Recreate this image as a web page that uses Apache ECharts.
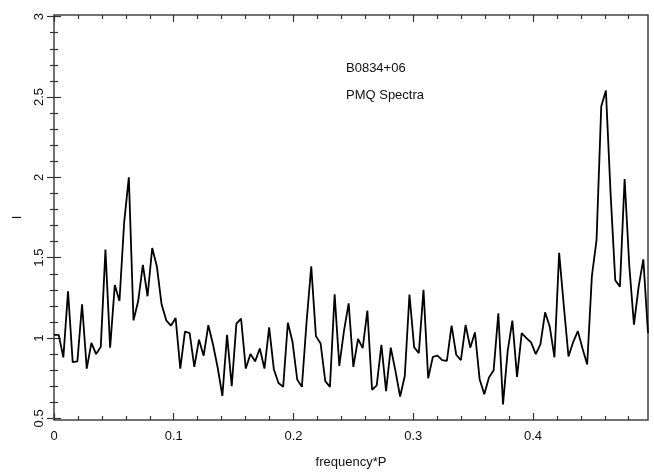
<!DOCTYPE html>
<html>
<head>
<meta charset="utf-8">
<script src="https://cdn.jsdelivr.net/npm/echarts@6/dist/echarts.min.js"></script>
<style>
html,body{margin:0;padding:0;background:#fff;}
#chart{width:654px;height:475px;}
</style>
</head>
<body>
<div id="chart"></div>
<script>
// Sampling step of the frequency grid (frequency*P), 128 samples
const freqStep = 1 / 256;
// Intensity values
const intensity = [
  1.02, 1.02, 0.88, 1.29, 0.85, 0.855, 1.21, 0.81, 0.97, 0.90,
  0.945, 1.55, 0.94, 1.33, 1.23, 1.72, 2.00, 1.11, 1.23, 1.455,
  1.26, 1.56, 1.445, 1.21, 1.11, 1.077, 1.125, 0.81, 1.04, 1.03,
  0.82, 0.99, 0.89, 1.08, 0.96, 0.815, 0.64, 1.02, 0.70, 1.09,
  1.12, 0.81, 0.90, 0.855, 0.935, 0.81, 1.066, 0.806, 0.72, 0.696,
  1.095, 0.975, 0.742, 0.696, 1.10, 1.446, 1.012, 0.966, 0.732, 0.696,
  1.272, 0.827, 1.045, 1.216, 0.82, 0.994, 0.937, 1.17, 0.678, 0.705,
  0.958, 0.67, 0.94, 0.796, 0.636, 0.764, 1.27, 0.943, 0.906, 1.30,
  0.75, 0.883, 0.89, 0.8625, 0.858, 1.077, 0.896, 0.8625, 1.081, 0.94,
  1.035, 0.744, 0.65, 0.754, 0.80, 1.154, 0.5875, 0.92, 1.108, 0.758,
  1.03, 1.00, 0.973, 0.90, 0.96, 1.16, 1.07, 0.88, 1.53, 1.20,
  0.885, 0.975, 1.043, 0.935, 0.835, 1.385, 1.61, 2.44, 2.54, 1.90,
  1.36, 1.32, 1.99, 1.45, 1.083, 1.32, 1.49, 1.03
];
const xMajorTicks = [0, 0.1, 0.2, 0.3, 0.4];
const xMinorTicks = [0.02, 0.04, 0.06, 0.08, 0.12, 0.14, 0.16, 0.18, 0.22, 0.24, 0.26, 0.28,
                     0.32, 0.34, 0.36, 0.38, 0.42, 0.44, 0.46, 0.48];
const yMajorTicks = [0.5, 1, 1.5, 2, 2.5, 3];
const yMinorTicks = [0.6, 0.7, 0.8, 0.9, 1.1, 1.2, 1.3, 1.4, 1.6, 1.7, 1.8, 1.9,
                     2.1, 2.2, 2.3, 2.4, 2.6, 2.7, 2.8, 2.9];
const xLabel = 'frequency*P';
const yLabel = 'I';
const annotations = ['B0834+06', 'PMQ Spectra'];

const seriesData = intensity.map((v, k) => [k * freqStep, v]);
const xMax = (intensity.length - 1) * freqStep;
const yMin = 0.49, yMax = 3.01;

const FONT = '"Liberation Sans", Arial, sans-serif';
const tickColor = '#333';

function xAxisDef(pos, ticks, len, withLabel) {
  return {
    type: 'value', position: pos, min: 0, max: xMax,
    axisLine: { show: false },
    splitLine: { show: false },
    axisTick: { show: true, inside: true, length: len, customValues: ticks,
                lineStyle: { color: tickColor, width: 1.2 } },
    axisLabel: withLabel ? { show: true, customValues: ticks, margin: 10,
                fontFamily: FONT, fontSize: 13, color: '#111',
                formatter: v => String(+v.toFixed(2)) } : { show: false },
    name: withLabel ? xLabel : '', nameLocation: 'middle', nameGap: 36,
    nameTextStyle: { fontFamily: FONT, fontSize: 13, color: '#111' }
  };
}
function yAxisDef(pos, ticks, len, withLabel) {
  return {
    type: 'value', position: pos, min: yMin, max: yMax,
    axisLine: { show: false },
    splitLine: { show: false },
    axisTick: { show: true, inside: true, length: len, customValues: ticks,
                lineStyle: { color: tickColor, width: 1.2 } },
    axisLabel: withLabel ? { show: true, customValues: ticks, margin: 8, rotate: 90,
                fontFamily: FONT, fontSize: 13, color: '#111',
                formatter: v => String(+v.toFixed(2)) } : { show: false },
    name: withLabel ? yLabel : '', nameLocation: 'middle', nameGap: 30, nameRotate: 90,
    nameTextStyle: { fontFamily: FONT, fontSize: 13, color: '#111' }
  };
}

const chart = echarts.init(document.getElementById('chart'), null, { renderer: 'canvas' });
chart.setOption({
  animation: false,
  backgroundColor: '#fff',
  grid: { left: 54, right: 6, top: 15, height: 405, show: true,
          borderColor: '#444', borderWidth: 1.5, backgroundColor: 'transparent' },
  xAxis: [
    xAxisDef('bottom', xMajorTicks, 7, true),
    xAxisDef('bottom', xMinorTicks, 4, false),
    xAxisDef('top', xMajorTicks, 7, false),
    xAxisDef('top', xMinorTicks, 4, false)
  ],
  yAxis: [
    yAxisDef('left', yMajorTicks, 7, true),
    yAxisDef('left', yMinorTicks, 4, false),
    yAxisDef('right', yMajorTicks, 7, false),
    yAxisDef('right', yMinorTicks, 4, false)
  ],
  series: [{
    type: 'line', xAxisIndex: 0, yAxisIndex: 0,
    data: seriesData, showSymbol: false, symbol: 'none',
    lineStyle: { color: '#000', width: 1.8 },
    clip: true
  }],
  graphic: [
    { type: 'text', left: 346, top: 62, style: { text: annotations[0], font: '13px ' + FONT, fill: '#111' } },
    { type: 'text', left: 346, top: 89, style: { text: annotations[1], font: '13px ' + FONT, fill: '#111' } }
  ]
});
</script>
</body>
</html>
